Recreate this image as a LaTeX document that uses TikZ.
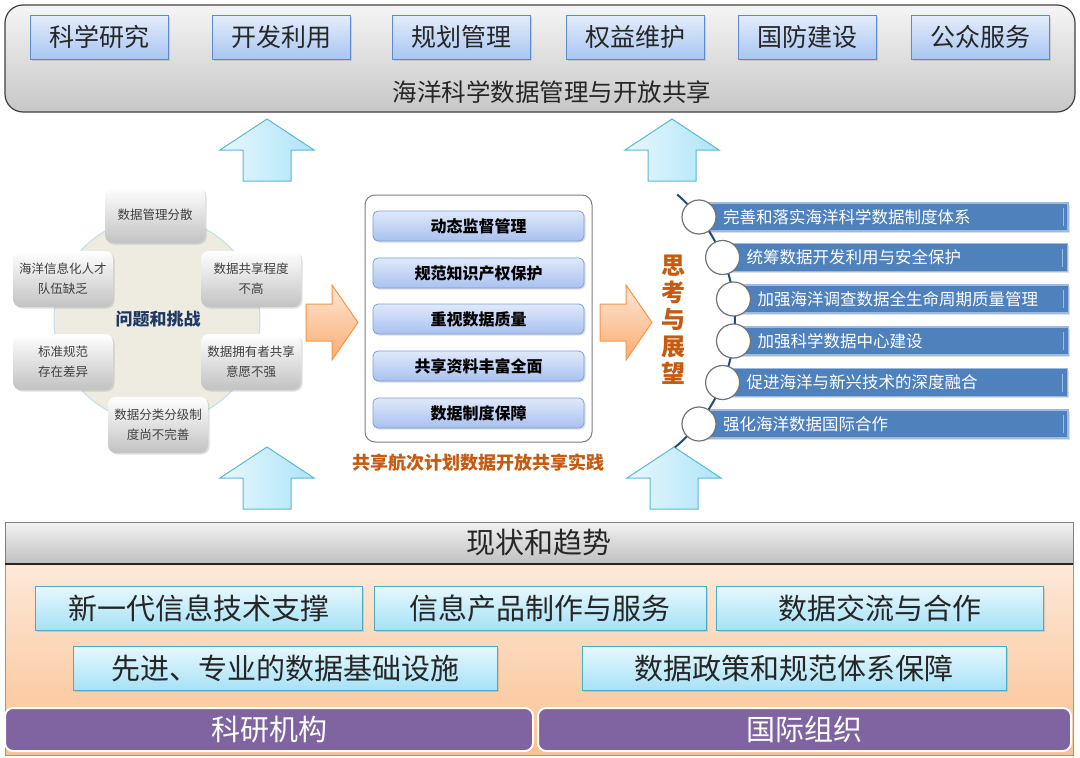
\documentclass[tikz,border=0pt]{standalone}
\usepackage{fontspec}
\setmainfont{Noto Sans CJK SC}
\usetikzlibrary{shadows}
\newcommand{\fsz}[2]{\fontsize{#1}{#2}\selectfont}
\definecolor{txt}{HTML}{262626}
\definecolor{topbd}{HTML}{5B8AD0}
\definecolor{toptop}{HTML}{E4EDFC}
\definecolor{topbot}{HTML}{A9C5F1}
\definecolor{upbd}{HTML}{5CB8D6}
\definecolor{upl}{HTML}{E8F8FD}
\definecolor{upr}{HTML}{ADE4F7}
\definecolor{orbd}{HTML}{F79646}
\definecolor{ortop}{HTML}{FEE7D6}
\definecolor{orbot}{HTML}{F9AC70}
\definecolor{ringfill}{HTML}{EEECE1}
\definecolor{ringbd}{HTML}{BFE0EA}
\definecolor{navy}{HTML}{1F3864}
\definecolor{orgtxt}{HTML}{C55A11}
\definecolor{itemtop}{HTML}{E0E9FB}
\definecolor{itembot}{HTML}{A8C1EF}
\definecolor{itembd}{HTML}{7A9FD9}
\definecolor{barc}{HTML}{4F81BD}
\definecolor{barbd}{HTML}{9DBBE0}
\definecolor{arcc}{HTML}{1F4E79}
\definecolor{ctop}{HTML}{E7F8FE}
\definecolor{cbot}{HTML}{A6E1F6}
\definecolor{cbd}{HTML}{4BACC6}
\definecolor{peachtop}{HTML}{FDE9D9}
\definecolor{peachbot}{HTML}{FAC090}
\definecolor{purp}{HTML}{8064A2}
\pgfdeclareradialshading{whiteball}{\pgfpoint{0bp}{0bp}}{color(0bp)=(white); color(36bp)=(white); color(50bp)=(black!30); color(100bp)=(black!30)}
\tikzset{
  uparrow/.pic={\path[draw=upbd, line width=1pt, left color=upl, right color=upr]
     (0,0) -- (47,31) -- (24,31) -- (24,62) -- (-24,62) -- (-24,31) -- (-47,31) -- cycle;},
  rarrow/.pic={\path[draw=orbd, line width=1pt, top color=ortop, bottom color=orbot]
     (0,-18.5) -- (26,-18.5) -- (26,-37.5) -- (52,0) -- (26,37.5) -- (26,18.5) -- (0,18.5) -- cycle;}
}
\begin{document}
\begin{tikzpicture}[x=1pt,y=-1pt,
  every node/.style={inner sep=0pt, outer sep=0pt},
  softshadow/.style={drop shadow={opacity=0.25, shadow xshift=1.5pt, shadow yshift=-1.5pt}},
  topbox/.style={draw=topbd, line width=1pt, top color=toptop, bottom color=topbot,
     minimum width=138, minimum height=44, font=\fsz{25}{28}, text=txt, softshadow},
  graybox/.style={rounded corners=8, top color=white, bottom color=black!24,
     minimum width=100, minimum height=56, align=center, font=\fsz{12.5}{20}, text=black!75, softshadow},
  itembox/.style={rounded corners=5, draw=itembd, line width=0.8pt, top color=itemtop, bottom color=itembot,
     minimum width=211, minimum height=30, font=\bfseries\fsz{16}{19}, text=black, softshadow},
  barbox/.style={anchor=west, fill=barc, draw=barbd, line width=1.2pt, minimum height=28,
     align=left, inner xsep=24pt, font=\fsz{16.5}{19}, text=white, softshadow,
     path picture={\draw[barbd, line width=1pt] ([xshift=-5pt,yshift=-5pt]path picture bounding box.north east) -- ([xshift=-5pt,yshift=5pt]path picture bounding box.south east);}},
  circ/.style={circle, minimum size=34, shading=whiteball, draw=black!55, line width=1.2pt},
  cbox/.style={draw=cbd, line width=1pt, top color=ctop, bottom color=cbot,
     minimum height=44, font=\fsz{29}{32}, text=txt, softshadow},
  pbar/.style={rounded corners=8, fill=purp, draw=white, line width=2pt, minimum height=43,
     font=\fsz{29}{32}, text=white}
]
\useasboundingbox (0,0) rectangle (1080,758);
\fill[white] (0,0) rectangle (1080,758);

% ---------- top bar ----------
\node[draw=black!75, line width=1.2pt, rounded corners=18, top color=black!4, bottom color=black!22,
      minimum width=1070, minimum height=107] (topbar) at (540,58.5) {};
\node[topbox] (s1) at (99,37) {科学研究};
\node[topbox] (s2) at (281,37) {开发利用};
\node[topbox] (s3) at (461.5,37) {规划管理};
\node[topbox] (s4) at (635,37) {权益维护};
\node[topbox] (s5) at (807.5,37) {国防建设};
\node[topbox] (s6) at (980.5,37) {公众服务};
\node[font=\fsz{24.5}{28}, text=txt] (title) at (552,92) {海洋科学数据管理与开放共享};

% ---------- up arrows ----------
\pic at (267,119) {uparrow};
\pic at (672,119) {uparrow};
\pic at (267,447) {uparrow};
\pic at (674,447) {uparrow};

% ---------- left: problems ----------
\node[circle, fill=ringfill, draw=ringbd, line width=1pt, minimum size=206] (ring) at (157,320) {};
\node[graybox] (p1) at (155,215) {数据管理分散};
\node[graybox] (p2) at (63,279) {海洋信息化人才\\队伍缺乏};
\node[graybox] (p3) at (251,279) {数据共享程度\\不高};
\node[graybox] (p4) at (63,362) {标准规范\\存在差异};
\node[graybox] (p5) at (251,362) {数据拥有者共享\\意愿不强};
\node[graybox] (p6) at (158,425) {数据分类分级制\\度尚不完善};
\node[font=\bfseries\fsz{17}{20}, text=navy] (pc) at (158,319) {问题和挑战};

% ---------- orange arrows ----------
\pic at (306,322.5) {rarrow};
\pic at (600,322.5) {rarrow};

% ---------- middle: practice ----------
\node[draw=black!50, line width=1pt, rounded corners=10, fill=white,
      minimum width=227, minimum height=247] (frame) at (478.5,318.5) {};
\node[itembox] (m1) at (478.5,226) {动态监督管理};
\node[itembox] (m2) at (478.5,273) {规范知识产权保护};
\node[itembox] (m3) at (478.5,319) {重视数据质量};
\node[itembox] (m4) at (478.5,366) {共享资料丰富全面};
\node[itembox] (m5) at (478.5,413) {数据制度保障};
\node[font=\bfseries\fsz{18}{21}, text=orgtxt] (mcap) at (478.5,463) {共享航次计划数据开放共享实践};

% ---------- right: outlook ----------
\node[font=\bfseries\fsz{24}{27}, text=orgtxt, align=center] (think) at (673,320) {思\\考\\与\\展\\望};
\node[barbox, minimum width=369, text width=321pt] (b1) at (699,217) {完善和落实海洋科学数据制度体系};
\node[barbox, minimum width=345, text width=297pt] (b2) at (722.6,257.5) {统筹数据开发利用与安全保护};
\node[barbox, minimum width=335, text width=287pt] (b3) at (733.5,299) {加强海洋调查数据全生命周期质量管理};
\node[barbox, minimum width=335, text width=287pt] (b4) at (733.5,341) {加强科学数据中心建设};
\node[barbox, minimum width=345, text width=297pt] (b5) at (722.6,382.5) {促进海洋与新兴技术的深度融合};
\node[barbox, minimum width=369, text width=321pt] (b6) at (699,424) {强化海洋数据国际合作};
\draw[arcc, line width=2pt] plot[domain=-49.5:50.5, samples=60, smooth] ({570+165*cos(\x)},{320+165*sin(\x)});
\node[circ] (c1) at (b1.west) {};
\node[circ] (c2) at (b2.west) {};
\node[circ] (c3) at (b3.west) {};
\node[circ] (c4) at (b4.west) {};
\node[circ] (c5) at (b5.west) {};
\node[circ] (c6) at (b6.west) {};

% ---------- bottom ----------
\node[draw=black!40, line width=1pt, top color=peachtop, bottom color=peachbot,
      minimum width=1068, minimum height=191] (body) at (539,659.5) {};
\node[draw=black!50, line width=1pt, top color=black!5, bottom color=black!25,
      minimum width=1068, minimum height=42, font=\fsz{29}{32}, text=txt] (trend) at (539,543) {现状和趋势};
\draw[black!85, line width=1.5pt] (trend.south west) -- (trend.south east);
\node[cbox, minimum width=327] (t1) at (198.5,608) {新一代信息技术支撑};
\node[cbox, minimum width=332] (t2) at (540,608) {信息产品制作与服务};
\node[cbox, minimum width=327] (t3) at (879.5,608) {数据交流与合作};
\node[cbox, minimum width=424] (t4) at (285,668.5) {先进、专业的数据基础设施};
\node[cbox, minimum width=424] (t5) at (794,668.5) {数据政策和规范体系保障};
\node[pbar, minimum width=528] (o1) at (269,729.5) {科研机构};
\node[pbar, minimum width=533] (o2) at (804.5,729.5) {国际组织};
\end{tikzpicture}
\end{document}
